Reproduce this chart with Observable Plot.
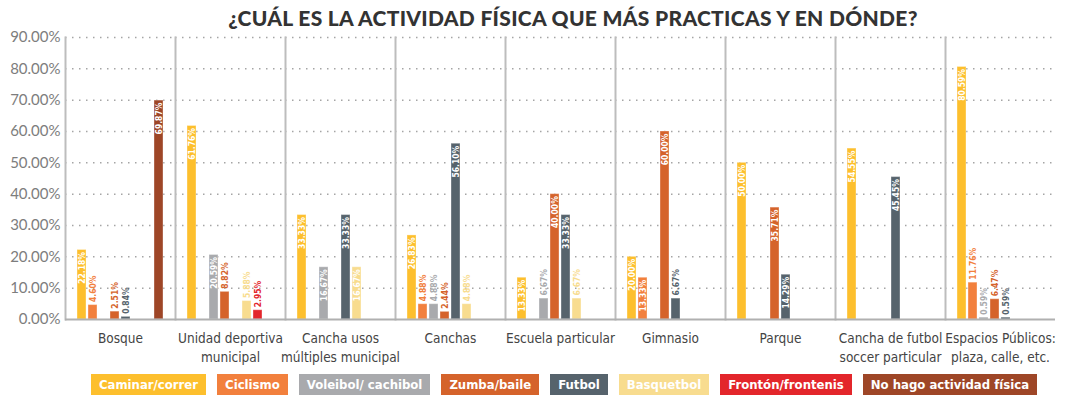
<!DOCTYPE html>
<html>
<head>
<meta charset="utf-8">
<script src="https://cdn.jsdelivr.net/npm/d3@7"></script>
<script src="https://cdn.jsdelivr.net/npm/@observablehq/plot@0.6"></script>
<style>
  html, body { margin: 0; padding: 0; background: #fff; width: 1066px; height: 400px; overflow: hidden; }
  #title { box-sizing: border-box; height: 28px; padding-top: 7px; text-align: center; padding-left: 80px;
    font-family: Lato, "Open Sans", sans-serif; font-weight: 900; font-size: 21px; line-height: 21px; color: #333; letter-spacing: 0.3px; }
  #legend { display: flex; justify-content: center; gap: 11px; padding-left: 62px; margin-top: 1px; white-space: nowrap; }
  #legend span { display: inline-block; height: 21px; line-height: 21px; padding: 0 8px; color: #fff; white-space: nowrap;
    font-family: "DejaVu Sans Condensed", "DejaVu Sans", sans-serif; font-stretch: condensed; font-weight: bold; font-size: 13px; }
</style>
</head>
<body>
<div id="title">¿CUÁL ES LA ACTIVIDAD FÍSICA QUE MÁS PRACTICAS Y EN DÓNDE?</div>
<div id="chart"></div>
<div id="legend"></div>
<script>
const categories = ["Bosque", "Unidad deportiva\nmunicipal", "Cancha usos\nmúltiples municipal", "Canchas", "Escuela particular", "Gimnasio", "Parque", "Cancha de futbol\nsoccer particular", "Espacios Públicos:\nplaza, calle, etc."];
const series = ["Caminar/correr", "Ciclismo", "Voleibol/ cachibol", "Zumba/baile", "Futbol", "Basquetbol", "Frontón/frontenis", "No hago actividad física"];
const colors = ["#FDBF2D", "#F2803D", "#A9AAAD", "#D5632B", "#56636C", "#F8DC8F", "#E3262B", "#9E4627"];

const caminar    = [22.18, 61.76, 33.33, 26.83, 13.33, 20.00, 50.00, 54.55, 80.59];
const ciclismo   = [4.60, null, null, 4.88, null, 13.33, null, null, 11.76];
const voleibol   = [null, 20.59, 16.67, 4.88, 6.67, null, null, null, 0.59];
const zumba      = [2.51, 8.82, null, 2.44, 40.00, 60.00, 35.71, null, 6.47];
const futbol     = [0.84, null, 33.33, 56.10, 33.33, 6.67, 14.29, 45.45, 0.59];
const basquetbol = [null, 5.88, 16.67, 4.88, 6.67, null, null, null, null];
const fronton    = [null, 2.95, null, null, null, null, null, null, null];
const noHago     = [69.87, null, null, null, null, null, null, null, null];
const yTicks = [0, 10, 20, 30, 40, 50, 60, 70, 80, 90];

const valuesBySeries = [caminar, ciclismo, voleibol, zumba, futbol, basquetbol, fronton, noHago];
const data = [];
valuesBySeries.forEach((vals, si) => vals.forEach((v, ci) => {
  if (v != null) data.push({cat: categories[ci], series: series[si], value: v});
}));
const fmt = d => d.value.toFixed(2) + "%";
const labelFont = "'DejaVu Sans Condensed', 'DejaVu Sans', sans-serif";

const plot = Plot.plot({
  width: 1066,
  height: 345,
  marginLeft: 62,
  marginRight: 8,
  marginTop: 9,
  marginBottom: 54,
  fx: {domain: categories, padding: 0},
  x: {domain: series, paddingInner: 0.2, paddingOuter: 0.83, axis: null},
  y: {domain: [0, 90], axis: null},
  color: {domain: series, range: colors},
  style: {fontFamily: labelFont, fontStretch: "condensed", overflow: "visible"},
  marks: [
    Plot.gridY(yTicks.filter(t => t > 0), {stroke: "#a5a5a5", strokeOpacity: 1, strokeWidth: 1.5, strokeDasharray: "1.5,5.5"}),
    Plot.frame({anchor: "left", stroke: "#bdbdbd", strokeWidth: 2}),
    Plot.axisY(yTicks, {tickSize: 0, tickPadding: 5, tickFormat: d => d.toFixed(2) + "%", fontSize: 15, fill: "#7d7d7d", fontFamily: "Lato, sans-serif", label: null}),
    Plot.axisFx({anchor: "bottom", tickSize: 0, tickPadding: 10, fontSize: 13.5, lineHeight: 1.4, fill: "#444", label: null}),
    Plot.barY(data, {fx: "cat", x: "series", y: "value", fill: "series", stroke: "#fff", strokeOpacity: 0.35, strokeWidth: 1}),
    Plot.ruleY([0], {stroke: "#b0b0b0", strokeWidth: 2}),
    Plot.text(data.filter(d => d.value > 12), {fx: "cat", x: "series", y: "value", text: fmt, rotate: -90, textAnchor: "end", dy: 2, fill: "#fff", fontSize: 8.5, fontWeight: "bold"}),
    Plot.text(data.filter(d => d.value <= 12), {fx: "cat", x: "series", y: "value", text: fmt, rotate: -90, textAnchor: "start", dy: -3, fill: "series", fontSize: 8.5, fontWeight: "bold"})
  ]
});
document.getElementById("chart").appendChild(plot);

const legend = document.getElementById("legend");
series.forEach((s, i) => {
  const el = document.createElement("span");
  el.textContent = s;
  el.style.background = colors[i];
  legend.appendChild(el);
});
</script>
</body>
</html>
